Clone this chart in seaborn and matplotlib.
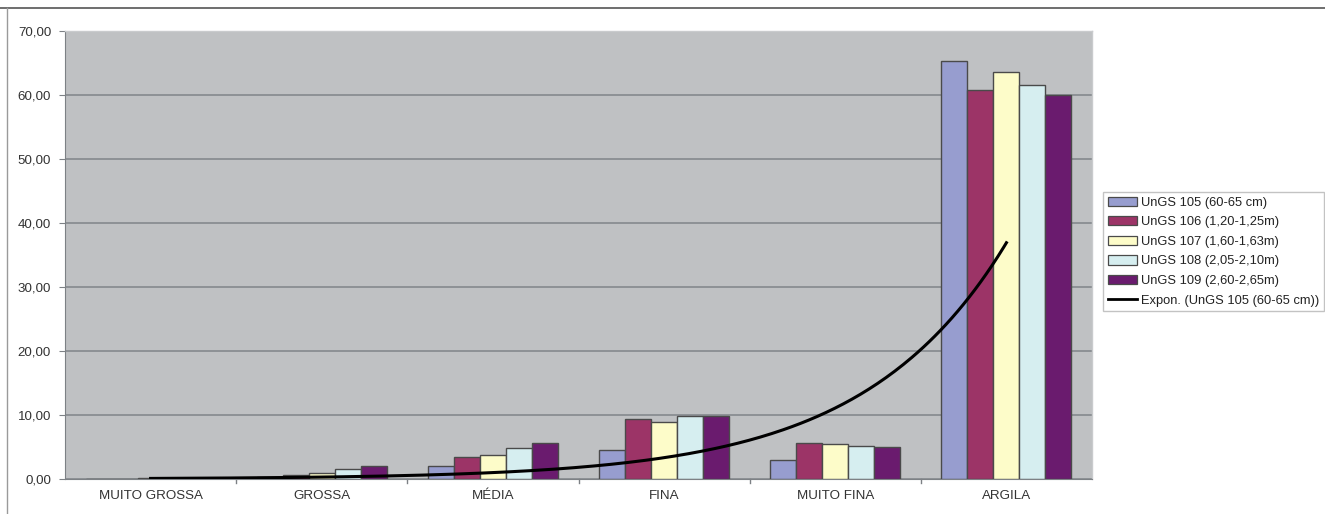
import numpy as np
import pandas as pd
import matplotlib
matplotlib.use("Agg")
import matplotlib.pyplot as plt
from matplotlib.lines import Line2D
import seaborn as sns

# Grain-size fractions (% of sample) for each UnGS sample
categories = ["MUITO GROSSA", "GROSSA", "MÉDIA", "FINA", "MUITO FINA", "ARGILA"]
samples = [
    "UnGS 105 (60-65 cm)",
    "UnGS 106 (1,20-1,25m)",
    "UnGS 107 (1,60-1,63m)",
    "UnGS 108 (2,05-2,10m)",
    "UnGS 109 (2,60-2,65m)",
]
ungs105 = [0.07, 0.28, 2.1, 4.6, 3.0, 65.3]
ungs106 = [0.02, 0.7, 3.5, 9.3, 5.7, 60.8]
ungs107 = [0.10, 0.9, 3.75, 8.9, 5.4, 63.6]
ungs108 = [0.06, 1.5, 4.8, 9.8, 5.2, 61.6]
ungs109 = [0.06, 2.0, 5.6, 9.9, 5.05, 60.0]
trend_label = "Expon. (UnGS 105 (60-65 cm))"
yticks = [0, 10, 20, 30, 40, 50, 60, 70]

colors = ["#979dcf", "#9c3467", "#fdfcc9", "#d6eef0", "#6a1b6e"]

series = [ungs105, ungs106, ungs107, ungs108, ungs109]
df = pd.DataFrame(
    [(c, s, v) for s, vals in zip(samples, series) for c, v in zip(categories, vals)],
    columns=["fração", "amostra", "valor"],
)

plt.rcParams["font.family"] = ["Liberation Sans", "DejaVu Sans"]

fig = plt.figure(figsize=(13.25, 5.14), dpi=100)
ax = fig.add_axes([65 / 1325, 1 - 479 / 514, (1092 - 65) / 1325, (479 - 31) / 514])
ax.set_facecolor("#bfc1c3")

sns.barplot(
    data=df, x="fração", y="valor", hue="amostra", order=categories,
    hue_order=samples, palette=colors, saturation=1, width=0.76, gap=0,
    edgecolor="#4a4a4a", linewidth=1.0, ax=ax, legend=False, zorder=3,
)

# Exponential trendline fitted to UnGS 105 (x = 1..6)
xs = np.arange(1, len(categories) + 1)
b, c = np.polyfit(xs, np.log(ungs105), 1)
xx = np.linspace(1, len(categories), 300)
ax.plot(xx - 1, np.exp(c + b * xx), color="black", lw=2.2, zorder=4)

ax.set_ylim(0, 70)
ax.set_xlim(-0.5, len(categories) - 0.5)
ax.set_yticks(yticks)
ax.set_yticklabels([f"{t:.2f}".replace(".", ",") for t in yticks])
ax.yaxis.grid(True, color="#85898d", lw=1.2, zorder=0)
ax.set_axisbelow(True)
ax.set_xlabel("")
ax.set_ylabel("")

for side in ["top", "right"]:
    ax.spines[side].set_color("#c9cbcd")
    ax.spines[side].set_linewidth(1)
ax.spines["left"].set_color("#7d8185")
ax.spines["bottom"].set_color("#7d8185")
ax.tick_params(axis="y", length=4, color="#7d8185", labelsize=9.6, labelcolor="#333333", pad=6)
ax.tick_params(axis="x", length=0, labelsize=9.6, labelcolor="#333333", pad=8)
# category separators on x axis
for xb in np.arange(0.5, len(categories) - 1, 1.0):
    ax.plot([xb, xb], [0, -0.6], color="#7d8185", lw=1, clip_on=False)

handles = [
    plt.Rectangle((0, 0), 1, 1, facecolor=col, edgecolor="#4a4a4a", linewidth=0.9)
    for col in colors
]
handles.append(Line2D([0], [0], color="black", lw=2))
leg = fig.legend(
    handles, samples + [trend_label], loc="upper left",
    bbox_to_anchor=(1103 / 1325, 1 - 192 / 514), fontsize=9.3,
    frameon=True, fancybox=False, handlelength=2.3, handleheight=0.72,
    handletextpad=0.3, labelspacing=0.58, borderpad=0.35, borderaxespad=0,
)
leg.get_frame().set_edgecolor("#b5b5b5")
leg.get_frame().set_linewidth(1)
for t in leg.get_texts():
    t.set_color("#222222")

# chart frame lines
fig.add_artist(Line2D([0, 1], [1 - 8 / 514] * 2, color="#555555", lw=1.2))
fig.add_artist(Line2D([7 / 1325] * 2, [0, 1 - 8 / 514], color="#9a9a9a", lw=1))

fig.savefig("out.png", dpi=100)
